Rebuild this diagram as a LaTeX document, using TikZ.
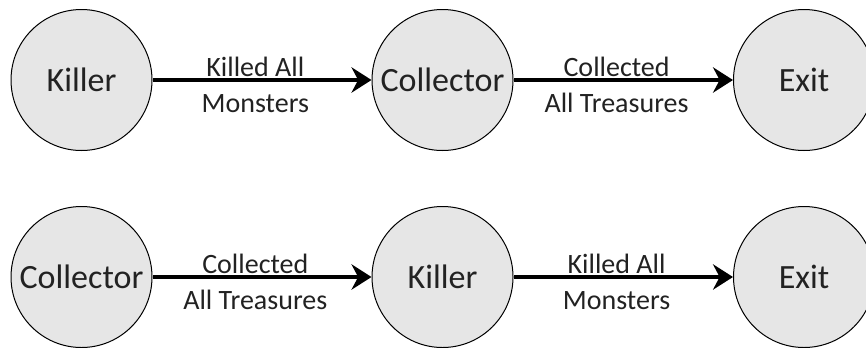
\documentclass[tikz,border=0pt]{standalone}
\usepackage{fontspec}
\setmainfont{Carlito}
\usetikzlibrary{arrows.meta}
\definecolor{nodefill}{HTML}{E6E6E6}
\definecolor{txt}{HTML}{222222}
\tikzset{
  state/.style={circle, draw=black, line width=0.75pt, fill=nodefill,
    minimum size=105.75pt, inner sep=0pt, text=txt,
    font=\fontsize{25.5}{30}\selectfont},
  arr/.style={line width=3.2pt, -{Stealth[length=15pt, width=19pt, inset=5pt]}},
  lbl/.style={midway, anchor=base, inner sep=0pt, text=txt, xshift=-5pt,
    font=\fontsize{21}{25}\selectfont},
  lbltop/.style={lbl, yshift=2.5pt},
  lblbot/.style={lbl, yshift=-24pt}
}
\begin{document}
\begin{tikzpicture}[x=0.75pt, y=-0.75pt]
\useasboundingbox (0,0) rectangle (866,347);
\node[state] (k1) at (81.5,80) {Killer};
\node[state] (c1) at (442.5,80) {Collector};
\node[state] (e1) at (804,80) {Exit};
\node[state] (c2) at (81.5,277) {Collector};
\node[state] (k2) at (442.5,277) {Killer};
\node[state] (e2) at (804,277) {Exit};
\draw[arr] (k1) -- node[lbltop] (l1a) {Killed All} node[lblbot] (l1b) {Monsters} (c1);
\draw[arr] (c1) -- node[lbltop] (l2a) {Collected} node[lblbot] (l2b) {All Treasures} (e1);
\draw[arr] (c2) -- node[lbltop] (l3a) {Collected} node[lblbot] (l3b) {All Treasures} (k2);
\draw[arr] (k2) -- node[lbltop] (l4a) {Killed All} node[lblbot] (l4b) {Monsters} (e2);
\end{tikzpicture}
\end{document}
